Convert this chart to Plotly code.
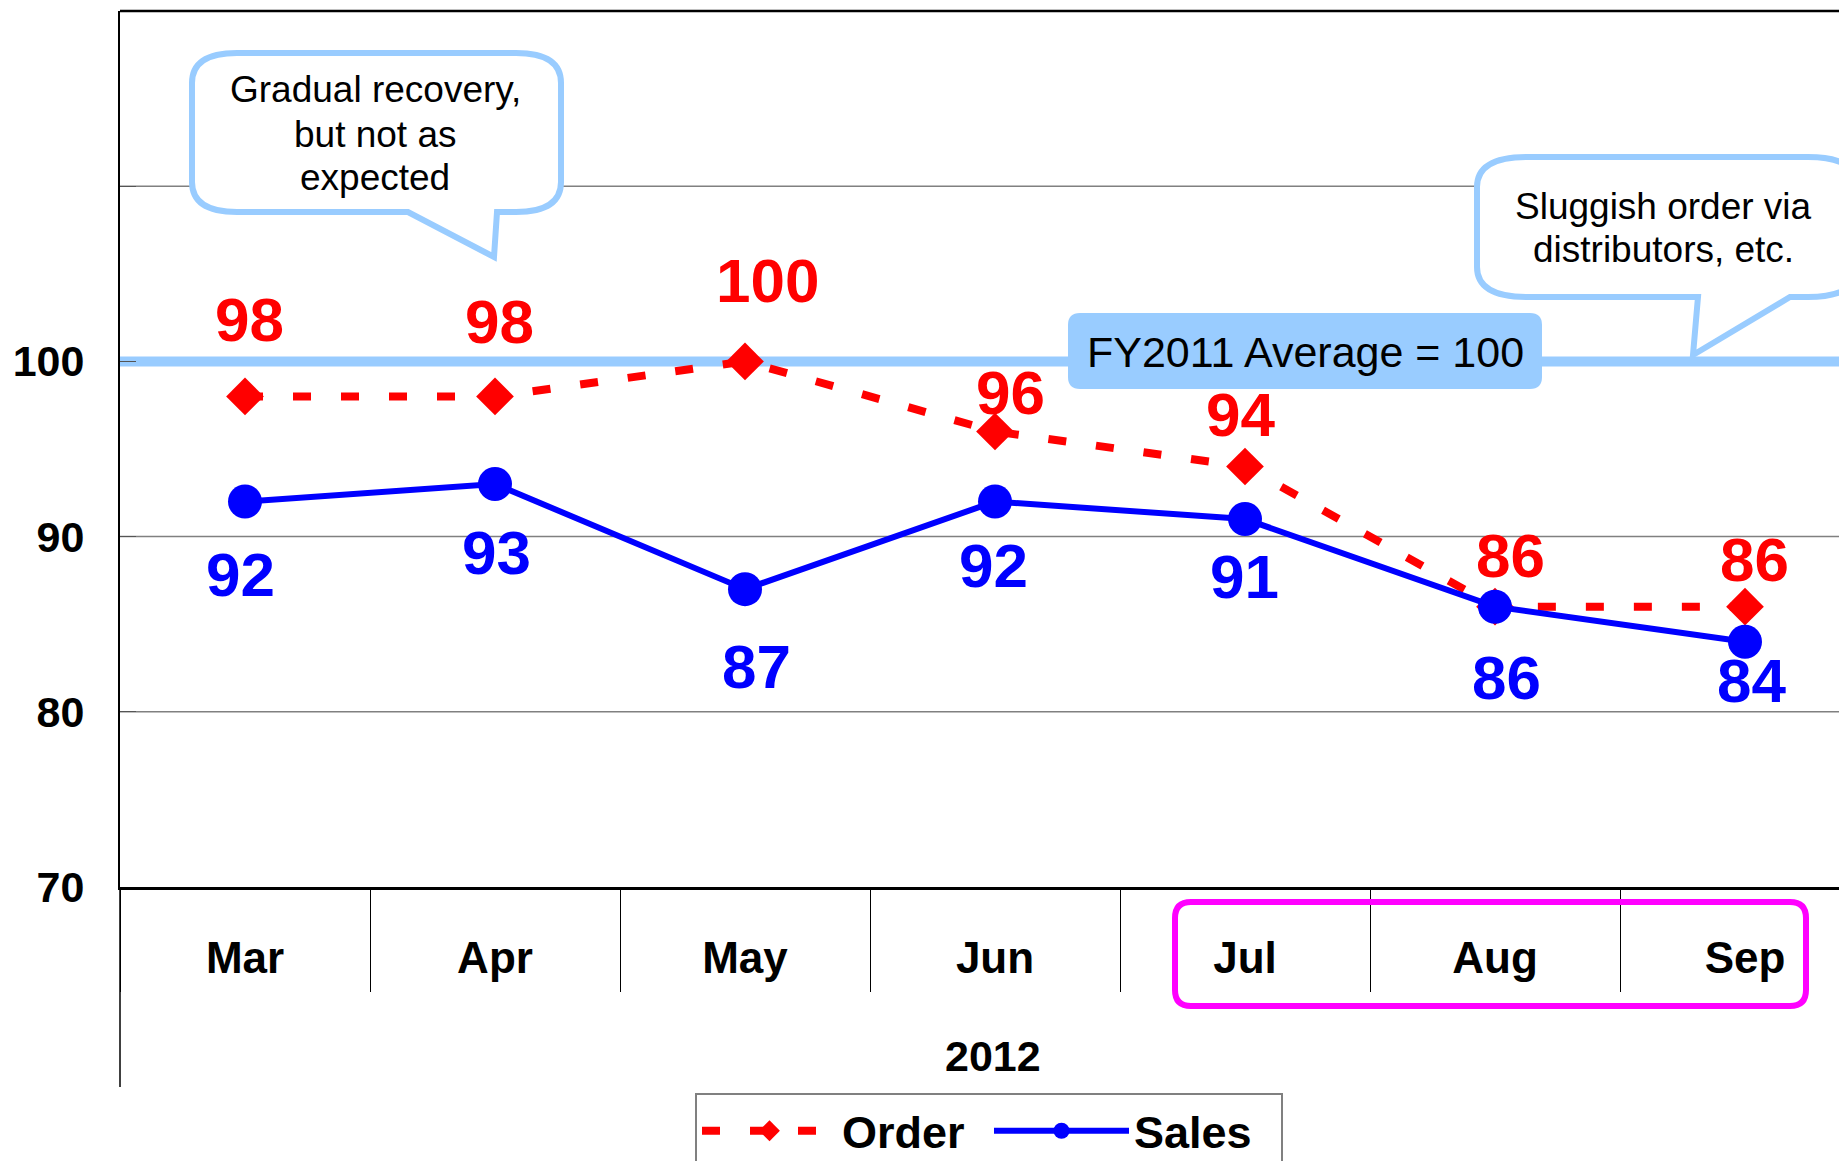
import plotly.graph_objects as go

months = ["Mar", "Apr", "May", "Jun", "Jul", "Aug", "Sep"]
order = [98, 98, 100, 96, 94, 86, 86]
sales = [92, 93, 87, 92, 91, 86, 84]
year_label = "2012"
avg_level = 100
avg_text = "FY2011 Average = 100"
y_ticks = [70, 80, 90, 100, 110]
y_tick_text = ["70", "80", "90", "100", ""]
note_left = ["Gradual recovery,", "but not as", "expected"]
note_right = ["Sluggish order via", "distributors, etc."]

# label offsets in px
order_dx = [4, 4, 22, 15, -5, 15, 9]
order_dy = [77, 75, 81, 39, 52, 51, 47]
sales_dx = [-5, 1, 11, -2, -1, 11, 6]
sales_dy = [-73, -68, -77, -64, -57, -71, -39]

FONT = "Liberation Sans, Arial, sans-serif"
RED = "#FF0000"
BLUE = "#0000FF"
LIGHT = "#99CCFF"

# page offset of the figure div (body margin)
OFF = 8
FIG_W, FIG_H = 1847 - OFF, 1161 - OFF
# plot area in page pixels
L, R, T, B = 120, 1847, 11, 887
W, H = R - L, B - T


def to_paper(x, y):
    return (x - L) / W, (B - y) / H


def p(x, y):
    a, b = to_paper(x, y)
    return f"{a:.5f},{b:.5f}"


def bubble_path(x0, y0, x1, y1, rx, ry, tail=None):
    s = (f"M{p(x0 + rx, y0)} L{p(x1 - rx, y0)} Q{p(x1, y0)} {p(x1, y0 + ry)} "
         f"L{p(x1, y1 - ry)} Q{p(x1, y1)} {p(x1 - rx, y1)}")
    if tail:
        right, tx, ty, left = tail
        s += f" L{p(right, y1)} L{p(tx, ty)} L{p(left, y1)}"
    s += (f" L{p(x0 + rx, y1)} Q{p(x0, y1)} {p(x0, y1 - ry)} "
          f"L{p(x0, y0 + ry)} Q{p(x0, y0)} {p(x0 + rx, y0)} Z")
    return s


def page_text(x, y, text, size, bold=False):
    a, b = to_paper(x, y)
    fig.add_annotation(x=a, y=b, xref="paper", yref="paper", text=text,
                       showarrow=False, xanchor="center", yanchor="middle",
                       font=dict(family=FONT, size=size, color="black",
                                 weight="bold" if bold else "normal"))


fig = go.Figure()

fig.add_trace(go.Scatter(
    x=months, y=order, name="Order", mode="lines+markers",
    line=dict(color=RED, width=8, dash="18px,30px"),
    marker=dict(symbol="diamond", size=29, color=RED),
))
fig.add_trace(go.Scatter(
    x=months, y=sales, name="Sales", mode="lines+markers",
    line=dict(color=BLUE, width=6),
    marker=dict(symbol="circle", size=34, color=BLUE),
))

# value labels
for i, m in enumerate(months):
    fig.add_annotation(x=m, y=order[i], text=str(order[i]), showarrow=False,
                       xshift=order_dx[i], yshift=order_dy[i],
                       font=dict(family=FONT, size=62, color=RED, weight="bold"))
    fig.add_annotation(x=m, y=sales[i], text=str(sales[i]), showarrow=False,
                       xshift=sales_dx[i], yshift=sales_dy[i],
                       font=dict(family=FONT, size=62, color=BLUE, weight="bold"))

# gridlines (the average line replaces the one at 100)
for v in y_ticks:
    if v not in (y_ticks[0], avg_level):
        fig.add_shape(type="line", xref="paper", x0=0, x1=1, yref="y", y0=v, y1=v,
                      line=dict(color="#808080", width=1.5), layer="below")
fig.add_shape(type="line", xref="paper", x0=0, x1=1, yref="y", y0=avg_level, y1=avg_level,
              line=dict(color=LIGHT, width=10), layer="below")

# frame pieces
fig.add_shape(type="line", xref="paper", yref="paper", x0=0, x1=1, y0=1, y1=1,
              line=dict(color="black", width=2.5))
fig.add_shape(type="line", xref="paper", yref="paper", x0=0, x1=0, y0=0,
              y1=to_paper(0, 1087)[1], line=dict(color="black", width=1.5))

# callouts
fig.add_shape(type="path", xref="paper", yref="paper",
              path=bubble_path(192, 53, 561, 212, 45, 30, tail=(497, 494, 257, 408)),
              line=dict(color=LIGHT, width=6), fillcolor="white", layer="above")
fig.add_shape(type="path", xref="paper", yref="paper",
              path=bubble_path(1477, 157, 1858, 297, 50, 30, tail=(1790, 1693, 355, 1698)),
              line=dict(color=LIGHT, width=6), fillcolor="white", layer="above")
fig.add_shape(type="path", xref="paper", yref="paper",
              path=bubble_path(1068, 313, 1542, 389, 12, 12),
              line=dict(width=0), fillcolor=LIGHT, layer="above")
fig.add_shape(type="path", xref="paper", yref="paper",
              path=bubble_path(1175, 902, 1806, 1006, 16, 16),
              line=dict(color="#FF00FF", width=6), layer="above")

for k, line in enumerate(note_left):
    page_text(375, 90 + 44 * k, line, 37)
for k, line in enumerate(note_right):
    page_text(1663, 206 + 43 * k, line, 37)
page_text(1305, 352, avg_text, 43)
page_text(993, 1056, year_label, 43, bold=True)

lx = to_paper(695, 0)[0]
ly = 1 - (1093 - OFF) / FIG_H
fig.update_layout(
    width=FIG_W, height=FIG_H,
    margin=dict(l=L - OFF, r=0, t=T - OFF, b=1161 - B),
    plot_bgcolor="white", paper_bgcolor="white",
    font=dict(family=FONT, color="black"),
    showlegend=True,
    legend=dict(orientation="h", x=lx, xanchor="left", xref="paper",
                y=ly, yanchor="top", yref="container",
                bordercolor="#808080", borderwidth=2, itemwidth=135,
                entrywidth=142,
                font=dict(family=FONT, size=45, weight="bold")),
    xaxis=dict(type="category", range=[-0.5, (R - L) / 250 - 0.5],
               showline=True, linecolor="black", linewidth=3,
               ticks="outside", tickson="boundaries", ticklen=102,
               tickcolor="black", tickwidth=1, ticklabelstandoff=30,
               showgrid=False, zeroline=False, automargin=False,
               tickfont=dict(family=FONT, size=44, weight="bold")),
    yaxis=dict(range=[70, 120], tickvals=y_ticks, ticktext=y_tick_text,
               showline=True, linecolor="black", linewidth=2,
               showgrid=False, zeroline=False, automargin=False,
               ticks="inside", ticklen=16, tickcolor="#555555",
               ticklabelstandoff=25,
               tickfont=dict(family=FONT, size=43, weight="bold")),
)

fig.write_html("out.html")
